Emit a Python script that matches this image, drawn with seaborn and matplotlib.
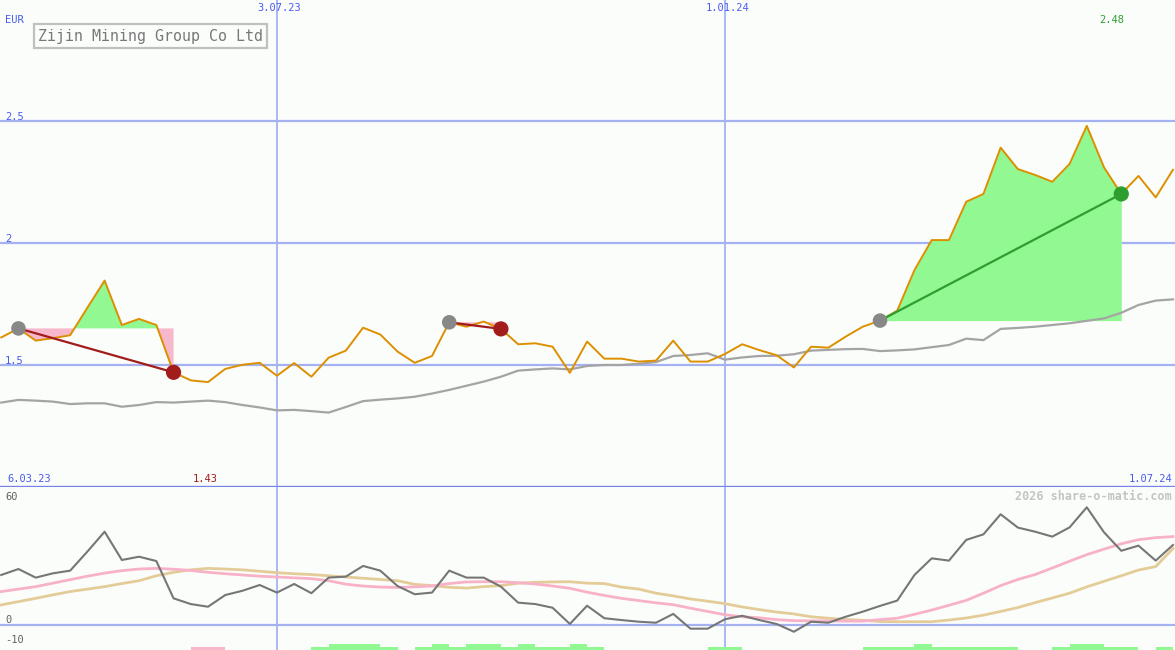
import numpy as np
import pandas as pd
import matplotlib
matplotlib.use("Agg")
import matplotlib.pyplot as plt
import seaborn as sns

# ---------------- data (weekly) ----------------
start_date = "2023-03-13"
n_weeks = 69

price = [1.613, 1.650, 1.600, 1.610, 1.622, 1.735, 1.846, 1.664, 1.689, 1.664,
         1.470, 1.437, 1.430, 1.484, 1.501, 1.509, 1.456, 1.508, 1.452, 1.530,
         1.559, 1.653, 1.625, 1.555, 1.509, 1.537, 1.675, 1.657, 1.678, 1.648,
         1.585, 1.589, 1.575, 1.468, 1.596, 1.526, 1.526, 1.514, 1.518, 1.600,
         1.514, 1.514, 1.545, 1.585, 1.561, 1.540, 1.490, 1.575, 1.571, 1.616,
         1.657, 1.682, 1.723, 1.889, 2.012, 2.012, 2.169, 2.201, 2.391, 2.303,
         2.279, 2.251, 2.324, 2.480, 2.310, 2.201, 2.275, 2.187, 2.300]

moving_avg = [1.346, 1.357, 1.354, 1.350, 1.340, 1.343, 1.343, 1.329, 1.336, 1.348,
              1.346, 1.350, 1.354, 1.348, 1.336, 1.326, 1.314, 1.316, 1.311, 1.305,
              1.328, 1.352, 1.358, 1.363, 1.370, 1.383, 1.398, 1.415, 1.432, 1.452,
              1.477, 1.482, 1.486, 1.482, 1.496, 1.500, 1.500, 1.505, 1.512, 1.537,
              1.541, 1.548, 1.522, 1.531, 1.537, 1.538, 1.544, 1.559, 1.562, 1.565,
              1.566, 1.557, 1.560, 1.564, 1.573, 1.582, 1.608, 1.602, 1.648, 1.652,
              1.657, 1.664, 1.671, 1.681, 1.691, 1.714, 1.746, 1.764, 1.769]

oscillator = [24.4, 27.3, 23.1, 25.2, 26.5, 35.8, 45.5, 31.7, 33.3, 31.2,
              13.0, 10.2, 8.9, 14.6, 16.7, 19.5, 15.8, 20.0, 15.5, 23.1,
              23.6, 28.8, 26.5, 19.0, 15.0, 15.8, 26.5, 23.1, 23.1, 18.7,
              10.9, 10.2, 8.4, 0.5, 9.4, 3.3, 2.4, 1.6, 1.1, 5.4,
              -1.8, -1.8, 2.8, 4.5, 2.4, 0.5, -3.3, 1.6, 1.1, 4.0,
              6.5, 9.3, 11.9, 24.4, 32.5, 31.4, 41.5, 44.2, 54.0, 47.5,
              45.5, 43.1, 47.6, 57.4, 45.2, 36.2, 38.7, 31.4, 39.0]

signal_fast = [16.3, 17.5, 18.7, 20.4, 22.1, 23.8, 25.3, 26.5, 27.3, 27.6,
               27.2, 26.6, 25.7, 25.0, 24.4, 23.8, 23.4, 23.0, 22.6, 21.6,
               19.9, 19.0, 18.5, 18.3, 18.6, 19.0, 20.2, 21.0, 21.1, 21.1,
               20.6, 20.0, 19.0, 17.9, 16.0, 14.4, 13.0, 11.9, 10.8, 9.9,
               8.2, 6.6, 5.0, 4.0, 3.5, 2.6, 2.1, 2.0, 2.0, 1.9,
               1.9, 2.6, 3.3, 5.2, 7.3, 9.6, 12.0, 15.5, 19.2, 22.2,
               24.6, 27.8, 31.1, 34.3, 37.0, 39.6, 41.6, 42.6, 43.1]

signal_slow = [9.8, 11.4, 13.0, 14.7, 16.3, 17.5, 18.7, 20.2, 21.6, 24.0,
               25.7, 26.9, 27.6, 27.3, 26.9, 26.2, 25.5, 25.0, 24.6, 24.0,
               23.4, 22.8, 22.2, 21.6, 19.8, 19.2, 18.4, 18.0, 18.7, 19.2,
               20.4, 20.8, 21.0, 21.1, 20.4, 20.2, 18.5, 17.5, 15.5, 14.2,
               12.7, 11.6, 10.4, 8.8, 7.5, 6.3, 5.4, 4.0, 3.3, 2.7,
               2.3, 1.7, 1.6, 1.6, 1.6, 2.4, 3.4, 4.8, 6.6, 8.5,
               10.9, 13.2, 15.5, 18.6, 21.3, 24.0, 26.8, 28.5, 37.3]

signal_bars = [0, 0, 0, 0, 0, 0, 0, 0, 0, 0,
               0, -1, -1, 0, 0, 0, 0, 0, 1, 2,
               2, 2, 1, 0, 1, 2, 1, 2, 2, 1,
               2, 1, 1, 2, 1, 0, 0, 0, 0, 0,
               0, 1, 1, 0, 0, 0, 0, 0, 0, 0,
               1, 1, 1, 2, 1, 1, 1, 1, 1, 0,
               0, 1, 2, 2, 1, 1, 0, 1, 0]

trades = [(1, 10), (26, 29), (51, 65)]   # (entry week, exit week)

title = "Zijin Mining Group Co Ltd"
currency = "EUR"
price_ticks = [1.5, 2.0, 2.5]
price_tick_labels = ["1.5", "2", "2.5"]
grid_dates = ["2023-07-03", "2024-01-01"]
grid_date_labels = ["3.07.23", "1.01.24"]
left_date_label = "6.03.23"
right_date_label = "1.07.24"
low_label, high_label = "1.43", "2.48"
osc_labels = [(60, "60"), (0, "0"), (-10, "-10")]
copyright_text = "2026 share-o-matic.com"

dates = pd.date_range(start_date, periods=n_weeks, freq="7D")
df = pd.DataFrame({"date": dates, "price": price, "ma": moving_avg,
                   "osc": oscillator, "fast": signal_fast, "slow": signal_slow,
                   "bars": signal_bars})

# ---------------- styling ----------------
BG = "#fbfdfb"
GRID = "#a4b2f2"
SEP = "#7383ea"
BLUE_TXT = "#4a5af0"
ORANGE = "#dc9000"
GREY_MA = "#a4a4a4"
GREEN_FILL = "#92f892"
PINK_FILL = "#f8b8cc"
DARKRED = "#a31c1c"
GREEN = "#2e9e2e"
mono = "DejaVu Sans Mono"

W, H = 1175, 650
fig = plt.figure(figsize=(W / 100, H / 100), dpi=100, facecolor=BG)
main_h = 487
ax = fig.add_axes([0, (H - main_h) / H, 1, main_h / H])
axl = fig.add_axes([0, 0, 1, (H - main_h) / H])

xmin = dates[0] - pd.Timedelta(hours=12)
xmax = dates[-1] + pd.Timedelta(hours=20)

for a in (ax, axl):
    a.set_facecolor(BG)
    a.set_xlim(xmin, xmax)
    for s in a.spines.values():
        s.set_visible(False)
    a.set_xticks([])
    a.set_yticks([])

ax.set_ylim(1.0, 2.996)
axl.set_ylim(-12.2, 67.3)

# grid lines
for yv in price_ticks:
    ax.axhline(yv, color=GRID, lw=1.6, zorder=1)
for d in grid_dates:
    for a in (ax, axl):
        a.axvline(pd.Timestamp(d), color=GRID, lw=1.3, zorder=1)
axl.axhline(0, color=GRID, lw=1.6, zorder=1)
ax.axhline(1.0, color=SEP, lw=2.4, zorder=5, clip_on=False)

# trade fills
for e, x in trades:
    seg = df.iloc[e:x + 1]
    base = price[e]
    ax.fill_between(seg["date"], seg["price"], base, where=seg["price"] >= base,
                    interpolate=True, color=GREEN_FILL, lw=0, zorder=2)
    ax.fill_between(seg["date"], seg["price"], base, where=seg["price"] <= base,
                    interpolate=True, color=PINK_FILL, lw=0, zorder=2)

# moving average and price
sns.lineplot(data=df, x="date", y="ma", ax=ax, color=GREY_MA, lw=1.6, zorder=3)
sns.lineplot(data=df, x="date", y="price", ax=ax, color=ORANGE, lw=1.4, zorder=4)

# trade connectors and markers
for e, x in trades:
    win = price[x] > price[e]
    col = GREEN if win else DARKRED
    tdf = df.iloc[[e, x]]
    sns.lineplot(data=tdf, x="date", y="price", ax=ax, color=col, lw=1.6, zorder=5)
    sns.scatterplot(data=df.iloc[[e]], x="date", y="price", ax=ax, color="#888888",
                    s=110, edgecolor="none", zorder=6)
    sns.scatterplot(data=df.iloc[[x]], x="date", y="price", ax=ax, color=col,
                    s=120, edgecolor="none", zorder=6)

ax.set_xlabel(""); ax.set_ylabel("")

# lower panel
bar_unit = 1.45
heights = [abs(b) * bar_unit for b in signal_bars]
bar_cols = [PINK_FILL if b < 0 else GREEN_FILL for b in signal_bars]
axl.bar(df["date"], heights, width=7, align="edge", bottom=-12.2,
        color=bar_cols, lw=0, zorder=2)
sns.lineplot(data=df, x="date", y="slow", ax=axl, color="#e4cc98", lw=2.0, zorder=3)
sns.lineplot(data=df, x="date", y="fast", ax=axl, color="#f8b2c8", lw=2.0, zorder=3)
sns.lineplot(data=df, x="date", y="osc", ax=axl, color="#767676", lw=1.5, zorder=4)
axl.set_xlabel(""); axl.set_ylabel("")

# ---------------- texts ----------------
ytr = ax.get_yaxis_transform()
xtr = ax.get_xaxis_transform()
for yv, lab in zip(price_ticks, price_tick_labels):
    ax.text(5 / W, yv - 0.003, lab, transform=ytr, ha="left", va="bottom",
            color=BLUE_TXT, fontsize=7.5, family=mono)
ax.text(5 / W, 1 - 20 / main_h, currency, transform=ax.transAxes, ha="left",
        va="center", color=BLUE_TXT, fontsize=7.5, family=mono)
for d, lab in zip(grid_dates, grid_date_labels):
    ax.text(pd.Timestamp(d) + pd.Timedelta(days=1), 1 - 8 / main_h, lab,
            transform=xtr, ha="center", va="center", color=BLUE_TXT,
            fontsize=7.5, family=mono)
ax.text(7 / W, 8 / main_h, left_date_label, transform=ax.transAxes, ha="left",
        va="center", color=BLUE_TXT, fontsize=7.5, family=mono)
ax.text(1 - 3 / W, 8 / main_h, right_date_label, transform=ax.transAxes,
        ha="right", va="center", color=BLUE_TXT, fontsize=7.5, family=mono)
imin = int(np.argmin(price))
imax = int(np.argmax(price))
ax.text(dates[imin] - pd.Timedelta(days=1), 8 / main_h, low_label, transform=xtr,
        ha="center", va="center", color=DARKRED, fontsize=7.5, family=mono)
ax.text(dates[imax] + pd.Timedelta(days=10), 1 - 20 / main_h, high_label,
        transform=xtr, ha="center", va="center", color=GREEN, fontsize=7.5,
        family=mono)
ax.text(38 / W, 1 - 36 / main_h, title, transform=ax.transAxes, ha="left",
        va="center", color="#777777", fontsize=10.8, family=mono,
        bbox=dict(boxstyle="square,pad=0.28", fc=BG, ec="#c0c0c0", lw=1.6))

low_h = H - main_h
ltr = axl.get_yaxis_transform()
for yv, lab in osc_labels:
    axl.text(5 / W, yv + 0.2, lab, transform=ltr, ha="left", va="bottom",
             color="#606060", fontsize=7.5, family=mono)
axl.text(1 - 3 / W, 1 - 9 / low_h, copyright_text, transform=axl.transAxes,
         ha="right", va="center", color="#c4c4c4", fontsize=8.5, family=mono,
         fontweight="bold")

fig.savefig("out.png", dpi=100, facecolor=BG)
